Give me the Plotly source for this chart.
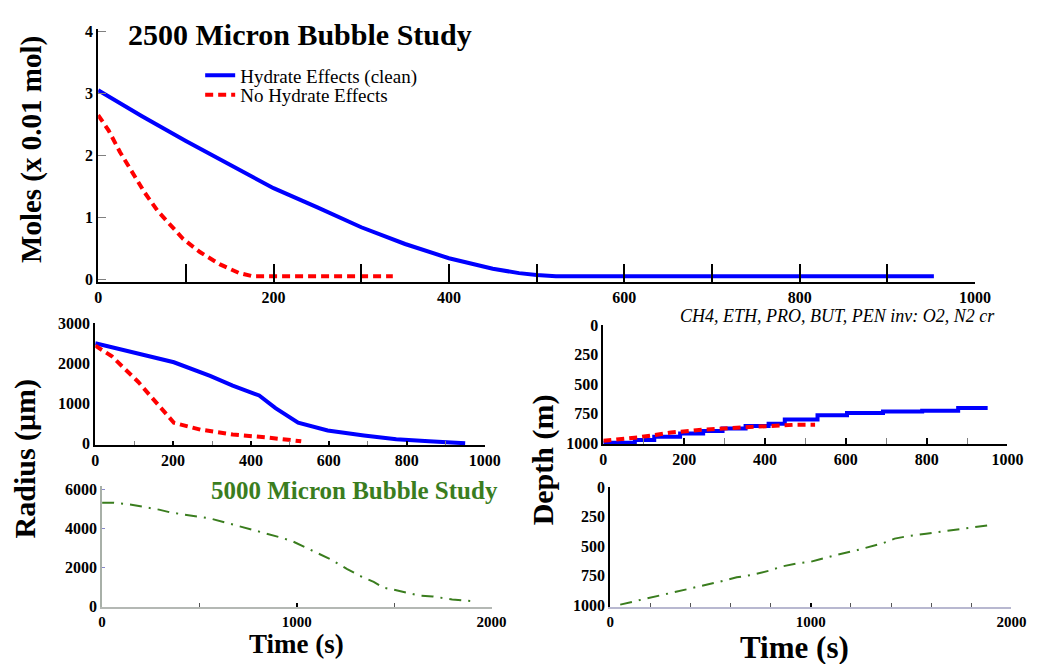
import plotly.graph_objects as go

W, H = 1047, 664
SERIF = "Liberation Serif"

# ---------------- data ----------------
# Top panel: moles vs time, 2500 micron bubble
moles_hyd_t = [0, 50, 100, 150, 200, 250, 300, 350, 400, 450, 480, 500, 522, 953]
moles_hyd_v = [3.05, 2.63, 2.23, 1.85, 1.47, 1.16, 0.84, 0.57, 0.34, 0.17, 0.10, 0.07, 0.05, 0.05]
moles_nohyd_t = [0, 12, 25, 38, 53, 68, 83, 97, 116, 139, 161, 176, 336]
moles_nohyd_v = [2.65, 2.40, 2.05, 1.75, 1.40, 1.10, 0.87, 0.65, 0.44, 0.24, 0.10, 0.05, 0.05]

# Middle-left: radius vs time, 2500 micron bubble
rad_hyd_t = [0, 101, 202, 295, 353, 421, 463, 521, 597, 690, 773, 857, 950]
rad_hyd_v = [2500, 2270, 2024, 1683, 1440, 1195, 878, 512, 317, 195, 98, 49, 0]
rad_nohyd_t = [0, 43, 110, 151, 202, 270, 353, 438, 504, 529]
rad_nohyd_v = [2440, 2170, 1537, 1073, 512, 341, 220, 146, 73, 50]

# Middle-right: depth vs time, 2500 micron bubble (stepped)
dep_hyd_t = [0, 78, 126, 190, 247, 295, 352, 409, 449, 530, 603, 692, 789, 878, 951]
dep_hyd_v = [995, 973, 945, 917, 895, 874, 854, 835, 799, 763, 744, 730, 725, 702, 702]
dep_nohyd_t = [0, 87, 167, 248, 330, 410, 475, 524]
dep_nohyd_v = [978, 950, 909, 884, 868, 851, 843, 843]

# Bottom-left: radius vs time, 5000 micron bubble
rad5_t = [0, 60, 151, 292, 353, 418, 469, 554, 630, 705, 781, 841, 907, 973,
          1058, 1174, 1259, 1325, 1395, 1446, 1496, 1562, 1627, 1698, 1798, 1909]
rad5_v = [5300, 5300, 5200, 4950, 4800, 4700, 4600, 4500, 4300, 4100, 3900, 3750, 3550, 3350,
          2950, 2400, 1900, 1550, 1250, 950, 850, 700, 550, 500, 350, 250]

# Bottom-right: depth vs time, 5000 micron bubble
dep5_t = [50, 73, 171, 220, 288, 337, 401, 484, 533, 631, 704, 792, 856, 939, 998,
          1046, 1125, 1232, 1271, 1315, 1364, 1418, 1477, 1575, 1658, 1736, 1834, 1902]
dep5_v = [995, 986, 950, 931, 903, 883, 861, 828, 806, 764, 744, 708, 672, 644, 633,
          611, 575, 533, 514, 494, 472, 436, 417, 394, 375, 356, 339, 319]

# tick labels
moles_ticks = [0, 1, 2, 3, 4]
time_ticks_1000 = [0, 200, 400, 600, 800, 1000]
radius_ticks = [0, 1000, 2000, 3000]
depth_ticks = [0, 250, 500, 750, 1000]
radius5_ticks = [0, 2000, 4000, 6000]
time_ticks_2000 = [0, 1000, 2000]

names = ["Hydrate Effects (clean)", "No Hydrate Effects"]
BLUE, RED, GREEN = "#0000ff", "#ff0000", "#3a7d1e"


def px_x(p):
    return p / W


def px_y(p):
    return 1 - p / H


tickfont = dict(family=SERIF, size=16, color="black", weight="bold")

fig = go.Figure()

# top panel
fig.add_trace(go.Scatter(x=moles_hyd_t, y=moles_hyd_v, mode="lines", name=names[0],
                         line=dict(color=BLUE, width=4), xaxis="x", yaxis="y", legend="legend"))
fig.add_trace(go.Scatter(x=moles_nohyd_t, y=moles_nohyd_v, mode="lines", name=names[1],
                         line=dict(color=RED, width=4, dash="8px,5px"), xaxis="x", yaxis="y",
                         legend="legend2"))
# middle-left
fig.add_trace(go.Scatter(x=rad_hyd_t, y=rad_hyd_v, mode="lines", showlegend=False,
                         line=dict(color=BLUE, width=4), xaxis="x2", yaxis="y2"))
fig.add_trace(go.Scatter(x=rad_nohyd_t, y=rad_nohyd_v, mode="lines", showlegend=False,
                         line=dict(color=RED, width=4, dash="8px,5px"), xaxis="x2", yaxis="y2"))
# middle-right
fig.add_trace(go.Scatter(x=dep_hyd_t, y=dep_hyd_v, mode="lines", showlegend=False,
                         line=dict(color=BLUE, width=4, shape="hv"), xaxis="x3", yaxis="y3"))
fig.add_trace(go.Scatter(x=dep_nohyd_t, y=dep_nohyd_v, mode="lines", showlegend=False,
                         line=dict(color=RED, width=4, dash="8px,5px"), xaxis="x3", yaxis="y3"))
# bottom-left
fig.add_trace(go.Scatter(x=rad5_t, y=rad5_v, mode="lines", showlegend=False,
                         line=dict(color=GREEN, width=2, dash="12px,7px,2px,7px"), xaxis="x4", yaxis="y4"))
# bottom-right
fig.add_trace(go.Scatter(x=dep5_t, y=dep5_v, mode="lines", showlegend=False,
                         line=dict(color=GREEN, width=2, dash="12px,7px,2px,7px"), xaxis="x5", yaxis="y5"))


def xax(d0, d1, rng, anchor, tickvals, linecolor="black", ticklen=0, minor=None, tickcolor="black",
        fsize=16):
    f = dict(tickfont)
    f["size"] = fsize
    a = dict(domain=[px_x(d0), px_x(d1)], range=rng, anchor=anchor, showgrid=False, zeroline=False,
             showline=True, linecolor=linecolor, linewidth=2, tickvals=tickvals,
             ticks="inside" if ticklen else "", ticklen=ticklen, tickwidth=2, tickcolor=tickcolor,
             tickfont=f, fixedrange=True)
    if minor:
        a["minor"] = minor
    return a


def yax(top, bottom, rng, anchor, tickvals, linecolor="black", ticklen=0, tickcolor="gray"):
    return dict(domain=[px_y(bottom), px_y(top)], range=rng, anchor=anchor, showgrid=False,
                zeroline=False, showline=True, linecolor=linecolor, linewidth=2, tickvals=tickvals,
                ticks="inside" if ticklen else "", ticklen=ticklen, tickwidth=1, tickcolor=tickcolor,
                tickfont=tickfont, fixedrange=True)


legfont = dict(family=SERIF, size=19, color="black")
layout = dict(
    width=W, height=H, margin=dict(l=0, r=0, t=0, b=0),
    paper_bgcolor="white", plot_bgcolor="white",
    font=dict(family=SERIF, color="black"),
    showlegend=True,
    legend=dict(x=px_x(200), y=px_y(69), xanchor="left", yanchor="middle",
                bgcolor="rgba(0,0,0,0)", font=legfont, itemwidth=30),
    legend2=dict(x=px_x(200), y=px_y(89), xanchor="left", yanchor="middle",
                 bgcolor="rgba(0,0,0,0)", font=legfont, itemwidth=30),
    xaxis=xax(96, 990, [0, 1000], "y", time_ticks_1000, ticklen=18,
              minor=dict(dtick=100, ticks="inside", ticklen=18, tickwidth=2, tickcolor="black")),
    yaxis=yax(22, 281, [-0.047, 4.031], "x", moles_ticks, ticklen=8),
    xaxis2=xax(93, 490, [0, 1000], "y2", time_ticks_1000, ticklen=4,
               minor=dict(dtick=100, ticks="inside", ticklen=4, tickwidth=1, tickcolor="gray")),
    yaxis2=yax(323, 448, [-49, 3000], "x2", radius_ticks),
    xaxis3=xax(611, 1023, [0, 1000], "y3", time_ticks_1000, ticklen=6,
               minor=dict(dtick=100, ticks="inside", ticklen=6, tickwidth=1, tickcolor="gray")),
    yaxis3=yax(325, 447, [1008, 0], "x3", depth_ticks),
    xaxis4=xax(100, 497, [0, 2000], "y4", time_ticks_2000, linecolor="#b4b8b4", ticklen=4,
               minor=dict(dtick=500, ticks="inside", ticklen=4, tickwidth=1, tickcolor="#555"),
               fsize=15),
    yaxis4=yax(490, 614, [-50, 6150], "x4", radius5_ticks, linecolor="#a8b0a8", ticklen=3, tickcolor="#8888cc"),
    xaxis5=xax(618, 1027, [0, 2000], "y5", time_ticks_2000, linecolor="#b8b8d0", ticklen=4,
               minor=dict(dtick=200, ticks="inside", ticklen=4, tickwidth=1, tickcolor="#555"),
               fsize=15),
    yaxis5=yax(491, 614, [1017, 0], "x5", depth_ticks),
)
fig.update_layout(**layout)

ann = [
    dict(text="<b>2500 Micron Bubble Study</b>", x=px_x(302), y=px_y(27), size=30, color="black"),
    dict(text="<b>5000 Micron Bubble Study</b>", x=px_x(357), y=px_y(494), size=25, color=GREEN),
    dict(text="<b>Moles (x 0.01 mol)</b>", x=px_x(28), y=px_y(145), size=29, color="black", angle=-90),
    dict(text="<b>Radius (μm)</b>", x=px_x(21), y=px_y(462), size=30, color="black", angle=-90),
    dict(text="<b>Depth (m)</b>", x=px_x(549), y=px_y(463), size=30, color="black", angle=-90),
    dict(text="<b>Time (s)</b>", x=px_x(298), y=px_y(652), size=27, color="black"),
    dict(text="<b>Time (s)</b>", x=px_x(806), y=px_y(655), size=31, color="black"),
]
for a in ann:
    fig.add_annotation(text=a["text"], x=a["x"], y=a["y"], xref="paper", yref="paper",
                       showarrow=False, xanchor="center", yanchor="middle",
                       textangle=a.get("angle", 0),
                       font=dict(family=SERIF, size=a["size"], color=a["color"]))

fig.add_annotation(text="<i>CH4, ETH, PRO, BUT, PEN inv: O2, N2 cr</i>", x=px_x(1012), y=px_y(316),
                   xref="paper", yref="paper", showarrow=False, xanchor="right", yanchor="middle",
                   font=dict(family=SERIF, size=18, color="black"))

fig.write_html("out.html")
